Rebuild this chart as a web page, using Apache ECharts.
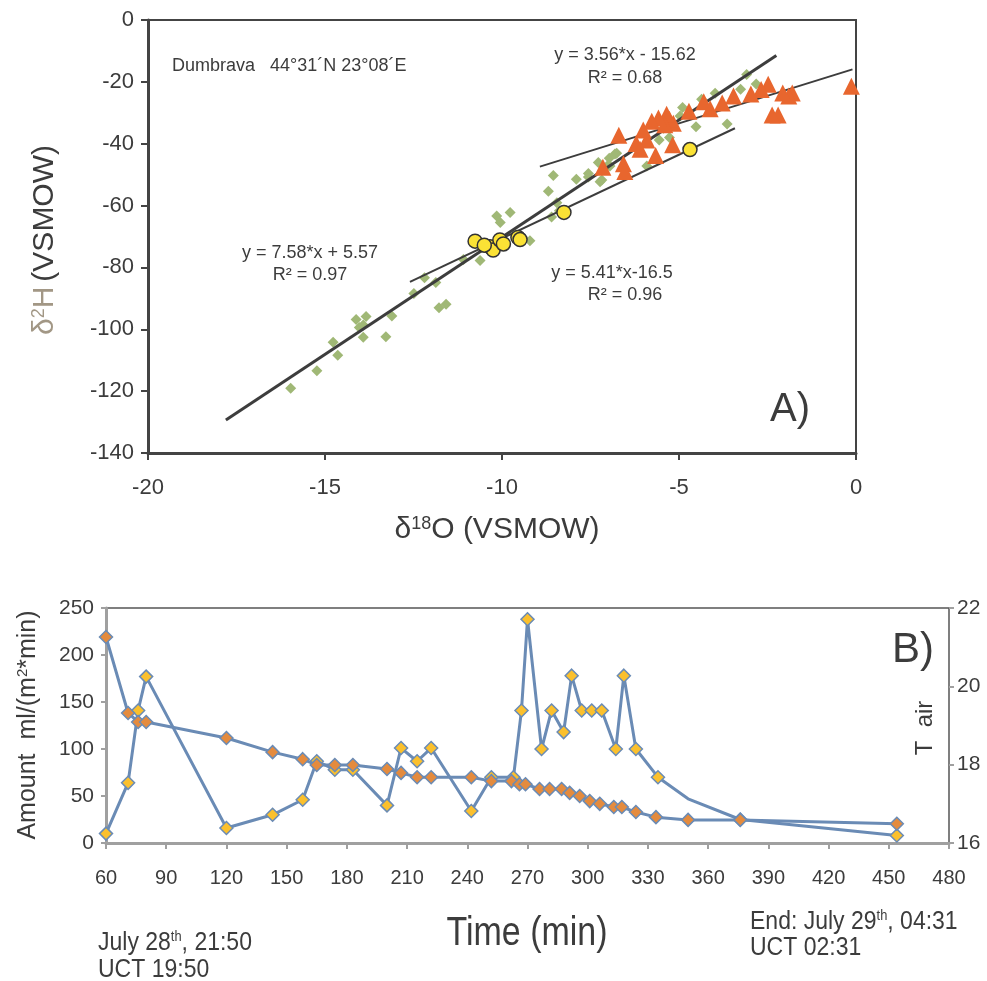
<!DOCTYPE html>
<html>
<head>
<meta charset="utf-8">
<script src="https://cdn.jsdelivr.net/npm/echarts@6/dist/echarts.min.js"></script>
<style>
  html, body { margin: 0; padding: 0; background: #fff; }
  #main { width: 987px; height: 981px; }
</style>
</head>
<body>
<div id="main"></div>
<script>
// A) isotopes, d18O / d2H pairs
var greenPts = [[-15.97,-119.1],[-15.23,-113.4],[-14.77,-104.2],[-14.64,-108.4],[-14.12,-96.8],
  [-13.84,-95.9],[-14.03,-99.4],[-13.92,-98.6],[-13.92,-102.6],[-13.28,-102.4],[-13.11,-95.7],
  [-12.49,-88.4],[-12.19,-83.3],[-11.87,-84.9],[-11.78,-93],[-11.58,-91.9],[-11.09,-77.4],
  [-10.62,-77.8],[-10.29,-74.4],[-10.15,-63.4],[-9.77,-62.2],[-10.05,-65.5],[-9.6,-69.5],
  [-9.21,-71.4],[-8.69,-55.4],[-8.55,-50.3],[-8.45,-59.1],[-8.38,-61.7],[-8.6,-63.7],
  [-7.9,-51.5],[-7.56,-50.8],[-7.23,-52.3],[-7.56,-49.6],[-7.28,-46.1],[-7.0,-46.9],
  [-6.97,-44.7],[-6.95,-47.2],[-6.76,-43.1],[-6.81,-43.3],[-7.18,-51.7],[-5.91,-47.2],
  [-5.56,-38.8],[-5.27,-38],[-5.44,-35],[-4.97,-31],[-4.9,-28.3],[-4.52,-34.5],[-4.36,-25.6],
  [-3.98,-23.7],[-3.64,-33.6],[-3.26,-22.4],[-3.09,-17.6],[-2.82,-20.7]];
var orangePts = [[-0.13,-21.4],[-1.8,-23.6],[-1.9,-24.6],[-2.07,-23.6],[-2.2,-30.7],[-2.37,-30.7],
  [-2.48,-20.8],[-2.68,-22.5],[-2.97,-23.9],[-3.46,-24.6],[-3.78,-26.8],[-4.12,-28.7],[-4.3,-26.4],
  [-4.72,-29.5],[-5.16,-33.4],[-5.27,-32.1],[-5.35,-30.5],[-5.4,-33.9],[-5.58,-31.7],[-5.77,-32.7],
  [-5.91,-38.8],[-6.01,-35.6],[-6.21,-39.9],[-6.1,-41.8],[-5.18,-40.3],[-5.66,-43.8],[-6.7,-37.3],
  [-6.57,-46.5],[-6.53,-49],[-7.15,-47.6]];
var yellowPts = [[-10.76,-71.5],[-10.34,-73.3],[-10.25,-74.4],[-10.06,-71.1],[-9.96,-72.4],
  [-10.5,-72.8],[-9.55,-70.3],[-9.49,-71],[-8.25,-62.2],[-4.69,-41.9]];
// fitted lines: slope, intercept, x range
var fitLines = [
  { slope: 7.58, intercept: 5.57, x0: -17.8, x1: -2.25, width: 3 },
  { slope: 3.56, intercept: -15.62, x0: -8.93, x1: -0.1, width: 2 },
  { slope: 5.41, intercept: -16.5, x0: -12.6, x1: -3.42, width: 2 }
];

// B) time series
var amountTime = [60,71,76,80,120,143,158,165,174,183,200,207,215,222,242,252,263,267,270,277,282,288,292,297,302,307,314,318,324,335,350,376,454];
var amountVals = [10,64,141,177,16,30,46,87,78,78,40,101,87,101,34,70,70,141,238,100,141,118,178,141,141,141,100,178,100,70,47,25,8];
var tempTime = [60,71,76,80,120,143,158,165,174,183,200,207,215,222,242,252,262,266,269,276,281,287,291,296,301,306,313,317,324,334,350,376,454];
var tempVals = [21.26,19.32,19.09,19.09,18.68,18.32,18.14,17.99,17.99,17.99,17.89,17.79,17.68,17.68,17.68,17.58,17.58,17.5,17.5,17.38,17.38,17.38,17.28,17.2,17.07,17.0,16.92,16.92,16.79,16.66,16.59,16.59,16.49];
var noMarkerTimes = [350];

var txt = '#3c3c3c';
var reg = "'Liberation Sans', Arial, sans-serif";

var chartDom = document.getElementById('main');
var myChart = echarts.init(chartDom);

var lineSeries = fitLines.map(function (f) {
    return {
        type: 'line', xAxisIndex: 0, yAxisIndex: 0,
        data: [[f.x0, f.slope * f.x0 + f.intercept], [f.x1, f.slope * f.x1 + f.intercept]],
        symbol: 'none', silent: true, z: 3,
        lineStyle: { color: '#3d3d3d', width: f.width }
    };
});

var amountData = amountTime.map(function (t, i) {
    var d = { value: [t, amountVals[i]] };
    if (noMarkerTimes.indexOf(t) >= 0) d.symbol = 'none';
    return d;
});
var tempData = tempTime.map(function (t, i) { return [t, tempVals[i]]; });

function t(x, y, text, opt) {
    var o = {
        type: 'text', x: x, y: y, z: 100,
        style: Object.assign({ text: text, fill: txt, font: '18px ' + reg, align: 'center', verticalAlign: 'middle' }, opt && opt.style)
    };
    if (opt && opt.rotation) o.rotation = opt.rotation;
    if (opt && opt.scaleX) o.scaleX = opt.scaleX;
    return o;
}
var supStyle = { fontSize: 14, verticalAlign: 'top', fill: txt, fontFamily: reg, padding: [0, 0, 9, 0] };

var option = {
    animation: false,
    backgroundColor: '#fff',
    grid: [
        { left: 148, top: 20, width: 708, height: 433, show: true, borderColor: '#444', borderWidth: 2 },
        { left: 106, top: 608, width: 843, height: 235, show: true, borderColor: '#555', borderWidth: 1.5 }
    ],
    xAxis: [
        { gridIndex: 0, type: 'value', min: -20, max: 0, interval: 5,
          axisLine: { onZero: false, lineStyle: { color: '#444', width: 3 } },
          axisTick: { show: true, length: 7, lineStyle: { color: '#444', width: 2 } },
          splitLine: { show: false },
          axisLabel: { color: txt, fontSize: 22, fontFamily: reg, margin: 24 } },
        { gridIndex: 1, type: 'value', min: 60, max: 480, interval: 30,
          axisLine: { onZero: false, lineStyle: { color: '#a0a0a0', width: 3 } },
          axisTick: { show: true, length: 6, lineStyle: { color: '#a0a0a0', width: 2 } },
          splitLine: { show: false },
          axisLabel: { color: txt, fontSize: 20, fontFamily: reg, margin: 25 } }
    ],
    yAxis: [
        { gridIndex: 0, type: 'value', min: -140, max: 0, interval: 20,
          axisLine: { onZero: false, lineStyle: { color: '#444', width: 3 } },
          axisTick: { show: true, length: 7, lineStyle: { color: '#444', width: 2 } },
          splitLine: { show: false },
          axisLabel: { color: txt, fontSize: 22, fontFamily: reg, margin: 14 } },
        { gridIndex: 1, type: 'value', min: 0, max: 250, interval: 50,
          axisLine: { show: true, onZero: false, lineStyle: { color: '#a0a0a0', width: 3 } },
          axisTick: { show: true, length: 5, lineStyle: { color: '#a0a0a0', width: 2 } },
          splitLine: { show: false },
          axisLabel: { color: txt, fontSize: 21, fontFamily: reg, margin: 12 } },
        { gridIndex: 1, type: 'value', min: 16, max: 22, interval: 2, position: 'right',
          axisLine: { show: false },
          axisTick: { show: true, length: 5, lineStyle: { color: '#a0a0a0', width: 2 } },
          splitLine: { show: false },
          axisLabel: { color: txt, fontSize: 21, fontFamily: reg, margin: 8 } }
    ],
    series: lineSeries.concat([
        { type: 'scatter', xAxisIndex: 0, yAxisIndex: 0, data: greenPts, symbol: 'diamond',
          symbolSize: 11, z: 2, itemStyle: { color: '#a0b876', opacity: 1 } },
        { type: 'scatter', xAxisIndex: 0, yAxisIndex: 0, data: orangePts, symbol: 'triangle',
          symbolSize: 17, z: 4, itemStyle: { color: '#e8662e', opacity: 1 } },
        { type: 'scatter', xAxisIndex: 0, yAxisIndex: 0, data: yellowPts, symbol: 'circle',
          symbolSize: 14, z: 5, itemStyle: { color: '#fbe235', borderColor: '#333', borderWidth: 1.5, opacity: 1 } },
        { type: 'line', xAxisIndex: 1, yAxisIndex: 1, data: amountData, symbol: 'diamond',
          symbolSize: 13, showAllSymbol: true, z: 3,
          lineStyle: { color: '#6a8bb5', width: 3 },
          itemStyle: { color: '#fbc02d', borderColor: '#6a8bb5', borderWidth: 1.5 } },
        { type: 'line', xAxisIndex: 1, yAxisIndex: 2, data: tempData, symbol: 'diamond',
          symbolSize: 13, showAllSymbol: true, z: 4,
          lineStyle: { color: '#6a8bb5', width: 3 },
          itemStyle: { color: '#e48b3e', borderColor: '#6a8bb5', borderWidth: 1.5 } }
    ]),
    graphic: [
        t(172, 66, 'Dumbrava   44°31´N 23°08´E', { style: { align: 'left' } }),
        t(625, 55, 'y = 3.56*x - 15.62'),
        t(625, 78, 'R² = 0.68'),
        t(310, 253, 'y = 7.58*x + 5.57'),
        t(310, 275, 'R² = 0.97'),
        t(612, 273, 'y = 5.41*x-16.5'),
        t(625, 295, 'R² = 0.96'),
        t(790, 410, 'A)', { style: { font: '40px ' + reg } }),
        t(913, 650, 'B)', { style: { font: '42px ' + reg } }),
        t(925, 728, 'T  air', { rotation: Math.PI / 2, style: { font: '24px ' + reg } }),
        t(497, 530, '{d|δ}{s|18}{d|O (VSMOW)}', { style: { rich: {
            d: { fontSize: 30, fontFamily: reg, fill: txt },
            s: { fontSize: 18, fontFamily: reg, fill: txt, verticalAlign: 'top', padding: [0, 0, 12, 0] } } } }),
        t(45, 240, '{g|δ}{gs|2}{g|H} {d|(VSMOW)}', { rotation: Math.PI / 2, style: { rich: {
            g: { fontSize: 30, fontFamily: reg, fill: '#a29785' },
            gs: { fontSize: 18, fontFamily: reg, fill: '#a29785', verticalAlign: 'top', padding: [0, 0, 12, 0] },
            d: { fontSize: 30, fontFamily: reg, fill: txt } } } }),
        t(28, 725, '{d|Amount  ml/(m}{s|2}{d|*min)}', { rotation: Math.PI / 2, style: { rich: {
            d: { fontSize: 25, fontFamily: reg, fill: txt },
            s: { fontSize: 15, fontFamily: reg, fill: txt, verticalAlign: 'top', padding: [0, 0, 10, 0] } } } }),
        t(527, 934, 'Time (min)', { scaleX: 0.85, style: { font: '40px ' + reg } }),
        t(98, 943, '{a|July 28}{s|th}{a|, 21:50}', { scaleX: 0.92, style: { align: 'left', rich: {
            a: { fontSize: 25, fontFamily: reg, fill: txt }, s: supStyle } } }),
        t(98, 970, 'UCT 19:50', { scaleX: 0.92, style: { align: 'left', font: '25px ' + reg } }),
        t(750, 922, '{a|End: July 29}{s|th}{a|, 04:31}', { scaleX: 0.92, style: { align: 'left', rich: {
            a: { fontSize: 25, fontFamily: reg, fill: txt }, s: supStyle } } }),
        t(750, 948, 'UCT 02:31', { scaleX: 0.92, style: { align: 'left', font: '25px ' + reg } })
    ]
};

myChart.setOption(option);
</script>
</body>
</html>
